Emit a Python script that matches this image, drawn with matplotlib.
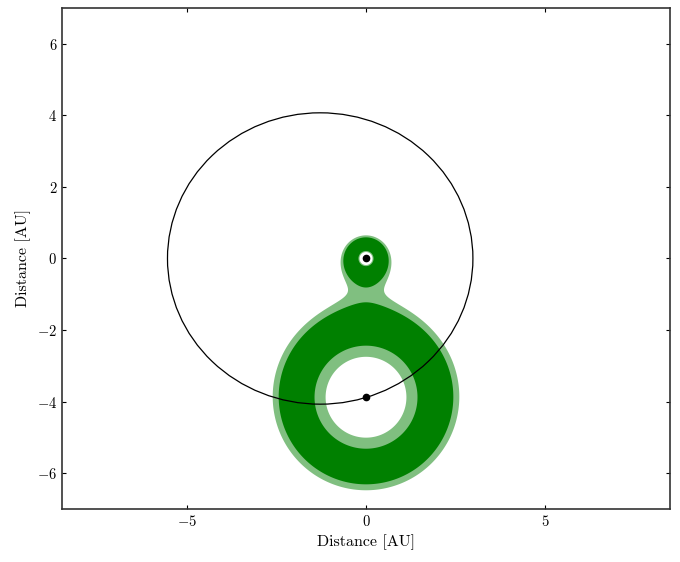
#!/usr/bin/env python3
"""Binary habitable zone map: combined flux of two stars, orbit of the companion."""

import numpy as np
import matplotlib
matplotlib.use("Agg")
import matplotlib.pyplot as plt
from matplotlib.patches import Ellipse

plt.rcParams["font.family"] = "serif"
plt.rcParams["font.serif"] = ["cmr10", "DejaVu Serif"]
plt.rcParams["mathtext.fontset"] = "cm"
plt.rcParams["axes.formatter.use_mathtext"] = True

# stars: primary at the orbit focus, companion on the orbit
STAR_X = [0.0, 0.0]
STAR_Y = [0.0, -3.88]
STAR_LUM = [0.09, 2.15]           # effective luminosities (L_sun)

# per-star flux limits (S_eff): outer optimistic, outer conservative,
# inner conservative, inner optimistic
FLUX_LIMITS_B = [0.32, 0.365, 2.33, 3.0]
FLUX_LIMITS_A = [0.32, 0.365, 1.04, 1.687]

# companion orbit (focus at origin)
ORBIT_A = 4.27
ORBIT_E = 0.30

XLIM = (-8.5, 8.5); YLIM = (-7, 7)
XTICKS = [-5, 0, 5]; YTICKS = [-6, -4, -2, 0, 2, 4, 6]

# layer colours, outermost boundary first
LIGHT = (0.5, 0.75, 0.5)
LAYER_COLORS = [LIGHT, "green", LIGHT, "white"]


def boundary_field(X, Y, k):
    """log of summed normalised flux; boundary k is where this is zero."""
    limits = [FLUX_LIMITS_B, FLUX_LIMITS_A]
    G = np.zeros_like(X)
    for sx, sy, L, S in zip(STAR_X, STAR_Y, STAR_LUM, limits):
        d2 = np.maximum((X - sx)**2 + (Y - sy)**2, 1e-8)
        G += L / (S[k] * d2)
    return np.log(G)


def main():
    fig = plt.figure(figsize=(6.8, 5.62), dpi=100)
    ax = fig.add_axes([0.0912, 0.0943, 0.8941, 0.8915])

    x = np.linspace(*XLIM, 1400); y = np.linspace(*YLIM, 1150)
    X, Y = np.meshgrid(x, y)

    for k, col in enumerate(LAYER_COLORS):
        ax.contourf(X, Y, boundary_field(X, Y, k), levels=[0, 100], colors=[col],
                    antialiased=True)

    c = ORBIT_A * ORBIT_E
    b = ORBIT_A * np.sqrt(1 - ORBIT_E**2)
    ax.add_patch(Ellipse((-c, 0), 2*ORBIT_A, 2*b, fill=False, color="black", lw=0.9))

    ax.plot(STAR_X, STAR_Y, "o", color="black", ms=4.5, zorder=5)

    ax.set_xlim(*XLIM); ax.set_ylim(*YLIM)
    ax.set_aspect("equal")
    ax.set_xticks(XTICKS); ax.set_yticks(YTICKS)
    ax.tick_params(direction="in", top=True, right=True, length=3, labelsize=10.5)
    for s in ax.spines.values():
        s.set_linewidth(1.2); s.set_color("#333333")
    ax.set_xlabel("Distance [AU]", fontsize=11.5)
    ax.set_ylabel("Distance [AU]", fontsize=11.5)

    fig.savefig("out.png", dpi=100)


if __name__ == "__main__":
    main()
